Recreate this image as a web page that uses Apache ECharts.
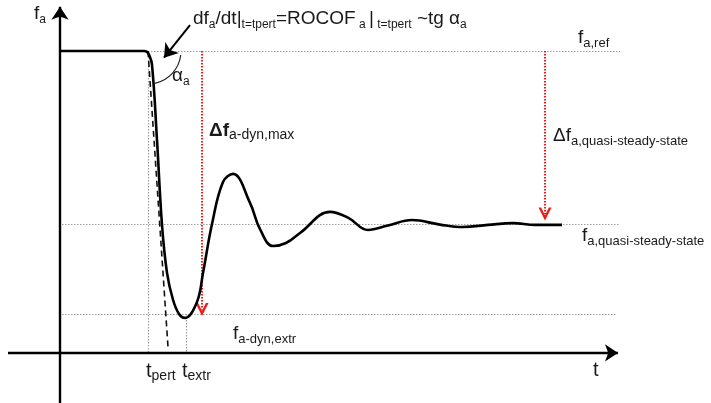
<!DOCTYPE html>
<html lang="en">
<head>
<meta charset="UTF-8">
<title>Frequency response after a perturbation</title>
<style>
  html, body { margin: 0; padding: 0; background: #fff; }
  #main { width: 711px; height: 403px; }
</style>
</head>
<body>
<div id="main"></div>
<script src="https://cdn.jsdelivr.net/npm/echarts@6/dist/echarts.min.js"></script>
<script>
// t in s, frequency as deviation from f_ref in mHz (sketch units)
var curveT = [0, 2.1, 2.175, 2.225, 2.3, 2.425, 2.55, 2.675, 2.825, 2.975, 3.125, 3.425, 3.575, 3.8,
              4.075, 4.325, 4.75, 5.0, 5.325, 5.65, 6.0, 6.75, 7.2, 7.7, 8.2, 8.8, 9.5, 10.075, 10.7,
              11.325, 11.875, 12.55];
var curveF = [0, 0, -3, -12, -45, -295, -576, -735, -824, -871, -884, -831, -735, -573,
              -434, -407, -503, -590, -646, -636, -603, -533, -552, -593, -578, -560, -575, -583, -576,
              -570, -576, -576];

var fRef = 0, fQuasi = -575, fExtr = -871, fAxis = -1000;
var tPert = 2.2, tExtr = 3.15, tTangent = 2.7, fTangent = -980;
var tDynArrow = 3.55, tQuasiArrow = 12.125;
var tMin = -1.3, tMax = 14.1, fMin = -1166, fMax = 169;

var curve = curveT.map(function (t, i) { return [t, curveF[i]]; });

var chart = echarts.init(document.getElementById('main'), null, { renderer: 'canvas' });

var FONT = '"Liberation Sans", Arial, sans-serif';
var TXT = '#1a1a1a';

function rich(main, sub) {
  return {
    m: { fontSize: main, lineHeight: 24, verticalAlign: 'middle', fontFamily: FONT, color: TXT },
    b: { fontSize: main, lineHeight: 24, verticalAlign: 'middle', fontFamily: FONT, color: TXT, fontWeight: 'bold' },
    s: { fontSize: sub, lineHeight: 13, verticalAlign: 'bottom', fontFamily: FONT, color: TXT }
  };
}
function label(x, y, text, main, sub) {
  return {
    type: 'text', left: x, top: y, silent: true,
    style: { text: text, rich: rich(main, sub), font: main + 'px ' + FONT, fill: TXT }
  };
}

var chevron = 'path://M0,10 L5,0 L10,10 L8,10 L5,4 L2,10 Z';

var option = {
  animation: false,
  backgroundColor: '#fff',
  grid: { left: 8, right: 87, top: 0, bottom: 0 },
  xAxis: { type: 'value', min: tMin, max: tMax, show: false },
  yAxis: { type: 'value', min: fMin, max: fMax, show: false },
  graphic: [
    label(34, 4, '{m|f}{s|a}', 19, 12),
    label(193, 9, '{m|df}{s|a}{m|/dt|}{s|t=tpert}{m|=ROCOF}{s| a }{m||}{s| t=tpert}{m| ~tg α}{s|a}', 19, 12),
    label(172, 66, '{m|α}{s|a}', 19, 12),
    label(578, 28, '{m|f}{s|a,ref}', 19, 13),
    label(553, 126, '{m|Δf}{s|a,quasi-steady-state}', 19, 13),
    label(582, 226, '{m|f}{s|a,quasi-steady-state}', 19, 13),
    label(209, 121, '{b|Δf}{s|a-dyn,max}', 19, 14),
    label(233, 324, '{m|f}{s|a-dyn,extr}', 19, 13),
    label(146, 361, '{m|t}{s|pert}', 20, 14),
    label(182, 361, '{m|t}{s|extr}', 20, 14),
    label(593, 360, '{m|t}', 20, 13)
  ],
  series: [
    {
      name: 'guides', type: 'lines', coordinateSystem: 'cartesian2d', silent: true, z: 1,
      lineStyle: { color: '#a0a0a0', width: 1.2, type: [1.5, 1.5], opacity: 1 },
      data: [
        { coords: [[tPert, fRef], [14.0, fRef]] },
        { coords: [[0.05, fQuasi], [14.0, fQuasi]] },
        { coords: [[0.05, fExtr], [13.9, fExtr]] },
        { coords: [[tPert, fRef], [tPert, fAxis]] },
        { coords: [[tExtr, fExtr], [tExtr, fAxis]] }
      ]
    },
    {
      name: 'tangent', type: 'lines', coordinateSystem: 'cartesian2d', silent: true, z: 2,
      lineStyle: { color: '#111', width: 1.6, type: [6, 4], opacity: 1 },
      data: [{ coords: [[tPert, fRef], [tTangent, fTangent]] }]
    },
    {
      name: 'deviations', type: 'lines', coordinateSystem: 'cartesian2d', silent: true, z: 3,
      symbol: ['none', chevron], symbolSize: [15, 13], symbolKeepAspect: false,
      lineStyle: { color: '#ee1c17', width: 2, type: [1.5, 1.5], opacity: 1 },
      data: [
        { coords: [[tDynArrow, fRef], [tDynArrow, fExtr + 15]] },
        { coords: [[tQuasiArrow, fRef], [tQuasiArrow, fQuasi + 35]] }
      ]
    },
    {
      name: 'axes', type: 'lines', coordinateSystem: 'cartesian2d', silent: true, z: 4,
      symbol: ['none', 'arrow'], symbolSize: [12, 13],
      lineStyle: { color: '#000', width: 2.4, opacity: 1 },
      data: [
        { coords: [[tMin, fAxis], [13.95, fAxis]] },
        { coords: [[0, fMin], [0, 147]] }
      ]
    },
    {
      name: 'pointer', type: 'lines', coordinateSystem: 'cartesian2d', silent: true, z: 4,
      symbol: ['none', 'arrow'], symbolSize: [10, 13],
      lineStyle: { color: '#000', width: 2, opacity: 1 },
      data: [{ coords: [[3.25, 86], [2.6, -22]] }]
    },
    {
      name: 'angle', type: 'custom', silent: true, z: 4,
      data: [[tPert, fRef]],
      renderItem: function (params, api) {
        var c = api.coord([api.value(0), api.value(1)]);
        return {
          type: 'arc',
          shape: { cx: c[0], cy: c[1], r: 33, startAngle: 7 * Math.PI / 180, endAngle: 78 * Math.PI / 180, clockwise: true },
          style: { stroke: '#222', fill: null, lineWidth: 1.2 }
        };
      }
    },
    {
      name: 'f_a', type: 'line', z: 5, data: curve, smooth: 0.4,
      showSymbol: false, silent: true,
      lineStyle: { color: '#000', width: 2.6 }
    }
  ]
};

chart.setOption(option);
</script>
</body>
</html>
